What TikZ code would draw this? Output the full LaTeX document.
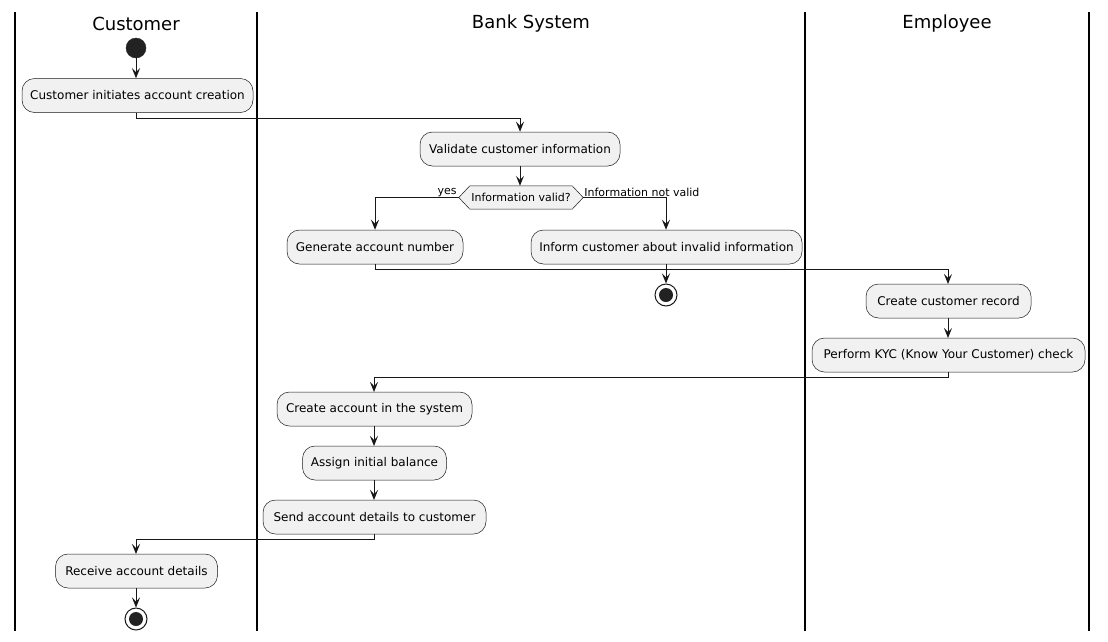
\documentclass[tikz,border=0pt]{standalone}
\usepackage{fontspec}
\setmainfont{DejaVu Sans}
\usetikzlibrary{arrows.meta,calc}
\definecolor{boxfill}{HTML}{F1F1F1}
\definecolor{ink}{HTML}{181818}
\definecolor{dot}{HTML}{222222}
\tikzset{
  act/.style={draw=ink, line width=0.5pt, fill=boxfill, rounded corners=12.5pt,
    minimum height=34pt, inner xsep=2pt, inner ysep=0pt,
    font=\fontsize{12}{14}\selectfont, text=black},
  conn/.style={draw=ink, line width=1pt, -{Stealth[length=10pt,width=8pt,inset=4pt]}},
  lane/.style={draw=black, line width=1.5pt},
  lanetitle/.style={font=\fontsize{18}{21}\selectfont, text=black},
  startc/.style={circle, fill=dot, draw=dot, minimum size=20pt, inner sep=0pt},
  stopc/.style={circle, draw=ink, line width=1pt, fill=white, minimum size=22pt, inner sep=0pt},
  lbl/.style={font=\fontsize{11}{13}\selectfont, inner sep=1pt, text=black},
}
\begin{document}
\begin{tikzpicture}[x=1pt,y=-1pt]
\useasboundingbox (0,0) rectangle (1108,641);
\fill[white] (0,0) rectangle (1108,641);
% lanes
\coordinate (l1t) at (15,12);  \coordinate (l1b) at (15,631);
\coordinate (l2t) at (257,12); \coordinate (l2b) at (257,631);
\coordinate (l3t) at (805,12); \coordinate (l3b) at (805,631);
\coordinate (l4t) at (1089,12); \coordinate (l4b) at (1089,631);
\draw[lane] (l1t) -- (l1b);
\draw[lane] (l2t) -- (l2b);
\draw[lane] (l3t) -- (l3b);
\draw[lane] (l4t) -- (l4b);
\node[lanetitle] (t1) at (136,23.5) {Customer};
\node[lanetitle] (t2) at (531,23.5) {Bank System};
\node[lanetitle] (t3) at (947,23.5) {Employee};
% nodes
\node[startc] (s) at (136,48) {};
\node[act, minimum width=231pt] (cust) at (137.5,95.5) {Customer initiates account creation};
\node[act, minimum width=200pt] (val) at (520,149) {Validate customer information};
\node[font=\fontsize{11}{13}\selectfont, minimum width=124pt, minimum height=23pt, inner sep=0pt] (dec) at (521,197.5) {Information valid?};
\draw[draw=ink, line width=0.5pt, fill=boxfill]
  (dec.west) -- ($(dec.north west)+(11,0)$) -- ($(dec.north east)+(-11,0)$) -- (dec.east)
  -- ($(dec.south east)+(-11,0)$) -- ($(dec.south west)+(11,0)$) -- cycle;
\node[font=\fontsize{11}{13}\selectfont] at (dec) {Information valid?};
\node[act, minimum width=176pt] (gen) at (375,247) {Generate account number};
\node[act, minimum width=271pt] (inf) at (666.5,247) {Inform customer about invalid information};
\node[stopc] (e1) at (666,295) {};
\fill[dot] (e1) circle (7);
\node[act, minimum width=165pt] (rec) at (948.5,301) {Create customer record};
\node[act, minimum width=273pt] (kyc) at (948.5,355) {Perform KYC (Know Your Customer) check};
\node[act, minimum width=195pt] (cre) at (374.5,409) {Create account in the system};
\node[act, minimum width=144pt] (ass) at (374.5,463) {Assign initial balance};
\node[act, minimum width=223pt] (snd) at (374.5,517) {Send account details to customer};
\node[act, minimum width=162pt] (rcv) at (136.5,571) {Receive account details};
\node[stopc] (e2) at (136,619) {};
\fill[dot] (e2) circle (7);
% connectors
\draw[conn] (s) -- (s |- cust.north);
\draw[conn] (s |- cust.south) -- ++(0,6) -| (val.north);
\draw[conn] (val) ++(0,17) -- (val.south |- dec.north);
\draw[conn] (dec.west) -| (gen.north);
\draw[conn] (dec.east) -| ($(inf.north)+(-0.5,0)$);
\node[lbl, anchor=south east] (ly) at ($(dec.west)+(-1,0)$) {yes};
\node[lbl, anchor=south west] (ln) at (dec.east) {Information not valid};
\draw[conn] ($(inf.south)+(-0.5,0)$) -- (e1.north);
\draw[conn] (gen.south) -- ++(0,5) -| (948,284);
\draw[conn] (948,318) -- (948,338);
\draw[conn] (948,372) -- ++(0,5) -| (374,392);
\draw[conn] (374,426) -- (374,446);
\draw[conn] (374,480) -- (374,500);
\draw[conn] (374,534) -- ++(0,5) -| (136,554);
\draw[conn] (136,588) -- (e2.north);
\end{tikzpicture}
\end{document}
